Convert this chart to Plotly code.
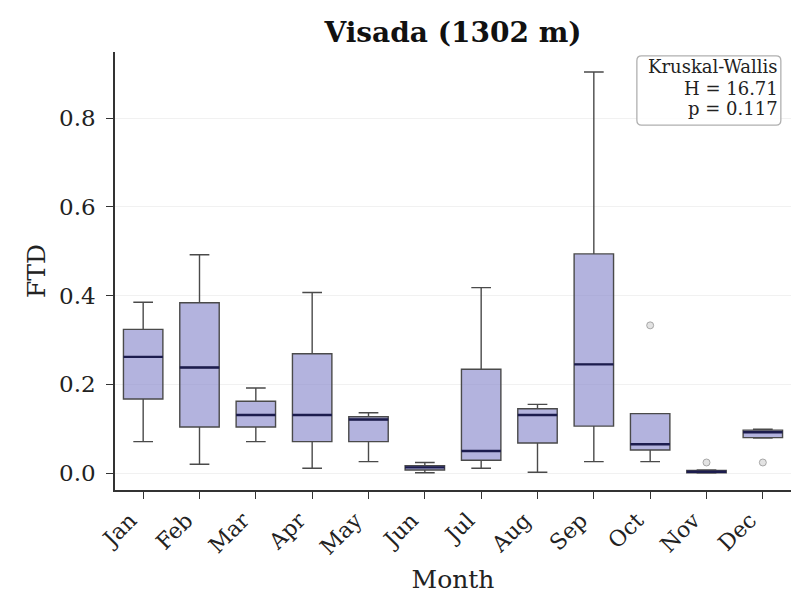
import plotly.graph_objects as go

# Monthly FTD distribution summary at Visada (1302 m)
months = ["Jan", "Feb", "Mar", "Apr", "May", "Jun",
          "Jul", "Aug", "Sep", "Oct", "Nov", "Dec"]
lower_whisker = [0.071, 0.020, 0.071, 0.011, 0.026, 0.001, 0.011, 0.002, 0.026, 0.026, 0.000, 0.079]
q1_vals       = [0.167, 0.104, 0.104, 0.071, 0.071, 0.007, 0.029, 0.068, 0.106, 0.052, 0.001, 0.080]
medians       = [0.262, 0.238, 0.131, 0.131, 0.121, 0.013, 0.050, 0.131, 0.245, 0.065, 0.003, 0.092]
q3_vals       = [0.324, 0.384, 0.162, 0.269, 0.127, 0.017, 0.234, 0.145, 0.494, 0.134, 0.006, 0.097]
upper_whisker = [0.385, 0.492, 0.192, 0.407, 0.136, 0.024, 0.418, 0.155, 0.904, 0.134, 0.007, 0.099]

# Points beyond the whiskers
outlier_month = [9, 10, 11]
outlier_value = [0.333, 0.024, 0.024]

kw_h = 16.71
kw_p = 0.117

FONT = "DejaVu Serif"
x_pos = list(range(len(months)))
BOX_W = 0.7

fig = go.Figure()

fig.add_trace(go.Box(
    x=x_pos,
    q1=q1_vals, median=medians, q3=q3_vals,
    lowerfence=lower_whisker, upperfence=upper_whisker,
    width=BOX_W, whiskerwidth=0.5,
    fillcolor="rgba(140,140,205,0.66)",
    line=dict(color="#4a4a4a", width=1.4),
    boxpoints=False, showlegend=False, hoverinfo="skip",
))

# Median bars drawn on top in dark navy
mx, my = [], []
for i, m in zip(x_pos, medians):
    mx += [i - BOX_W / 2, i + BOX_W / 2, None]
    my += [m, m, None]
fig.add_trace(go.Scatter(
    x=mx, y=my, mode="lines",
    line=dict(color="#1c1c4e", width=2.4),
    showlegend=False, hoverinfo="skip",
))

fig.add_trace(go.Scatter(
    x=outlier_month, y=outlier_value, mode="markers",
    marker=dict(symbol="circle", size=7, color="rgba(200,200,200,0.5)",
                line=dict(color="rgba(150,150,150,0.8)", width=1)),
    showlegend=False, hoverinfo="skip",
))

# Rounded box behind the Kruskal-Wallis statistics
x0, x1, y0, y1 = 0.772, 0.985, 0.833, 0.991
rx, ry = 0.007, 0.011
path = (f"M {x0+rx},{y0} L {x1-rx},{y0} Q {x1},{y0} {x1},{y0+ry} "
        f"L {x1},{y1-ry} Q {x1},{y1} {x1-rx},{y1} "
        f"L {x0+rx},{y1} Q {x0},{y1} {x0},{y1-ry} "
        f"L {x0},{y0+ry} Q {x0},{y0} {x0+rx},{y0} Z")
fig.add_shape(type="path", path=path, xref="paper", yref="paper",
              line=dict(color="#b0b0b0", width=1.3), fillcolor="rgba(255,255,255,0.85)")

for text, yy in [("Kruskal-Wallis", 0.966),
                 (f"H = {kw_h:.2f}", 0.916),
                 (f"p = {kw_p:.3f}", 0.870)]:
    fig.add_annotation(text=text, xref="paper", yref="paper", x=0.983, y=yy,
                       xanchor="right", yanchor="middle", showarrow=False,
                       font=dict(family=FONT, size=18, color="#222"))

fig.update_layout(
    width=791, height=598,
    margin=dict(l=115, r=0, t=52, b=108),
    paper_bgcolor="white", plot_bgcolor="white",
    font=dict(family=FONT, color="#222"),
    title=dict(text="<b>Visada (1302 m)</b>", x=0.5, xref="paper",
               y=1 - 32 / 598, yref="container", yanchor="middle", xanchor="center",
               font=dict(family=FONT, size=28, color="#111")),
)

fig.update_xaxes(
    range=[-0.5, 11.5], tickmode="array", tickvals=x_pos, ticktext=months,
    tickangle=-45, tickfont=dict(family=FONT, size=22, color="#222"),
    ticklabelshift=-13,
    showline=True, linecolor="#333", linewidth=1.5,
    ticks="outside", ticklen=7, tickwidth=1.4, tickcolor="#333",
    showgrid=False, zeroline=False,
    title=dict(text="Month", font=dict(family=FONT, size=25, color="#222"), standoff=12),
)
fig.update_yaxes(
    range=[-0.038, 0.949], tickmode="array",
    tickvals=[0.0, 0.2, 0.4, 0.6, 0.8], ticktext=["0.0", "0.2", "0.4", "0.6", "0.8"],
    tickfont=dict(family=FONT, size=23, color="#222"),
    ticklabelstandoff=6,
    showline=True, linecolor="#333", linewidth=1.5,
    ticks="outside", ticklen=7, tickwidth=1.4, tickcolor="#333",
    showgrid=True, gridcolor="#f1f1f1", gridwidth=1, zeroline=False,
    title=dict(text="FTD", font=dict(family=FONT, size=25, color="#222"), standoff=6),
)

fig.write_html("out.html")
